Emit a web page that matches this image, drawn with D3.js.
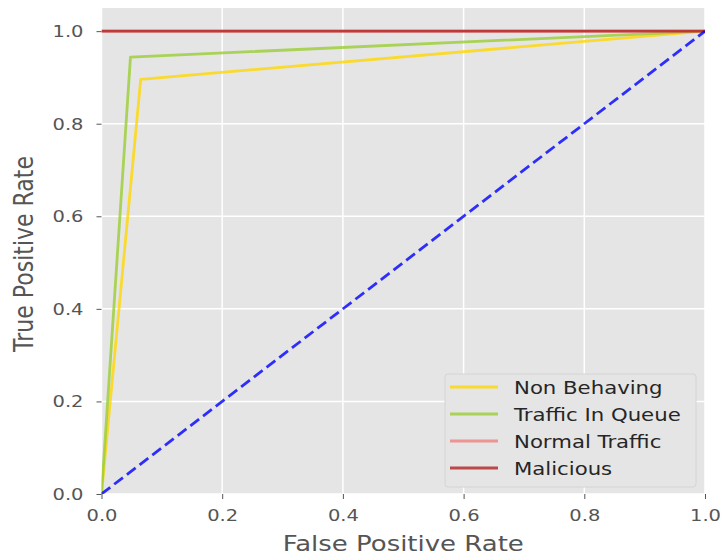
<!DOCTYPE html>
<html>
<head>
<meta charset="utf-8">
<script src="https://cdn.jsdelivr.net/npm/d3@7"></script>
<style>
    body { margin: 0; background: #fff; }
    text { font-family: "DejaVu Sans", sans-serif; fill: #555; }
</style>
</head>
<body>
<script>
(function(){

    //roc curve points for each class
    var classNames = ["Non Behaving", "Traffic In Queue", "Normal Traffic", "Malicious"];
    var fprNonBehaving = [0, 0.065, 1],
        tprNonBehaving = [0, 0.896, 1];
    var fprTrafficQueue = [0, 0.048, 1],
        tprTrafficQueue = [0, 0.944, 1];
    var fprNormal = [0, 1],
        tprNormal = [1, 1];
    var fprMalicious = [0, 1],
        tprMalicious = [1, 1];
    var chanceLine = [0, 1]; //diagonal reference
    var xTicks = [0, 0.2, 0.4, 0.6, 0.8, 1.0],
        yTicks = [0, 0.2, 0.4, 0.6, 0.8, 1.0];
    var lineColors = ["gold", "yellowgreen", "lightcoral", "firebrick"];

    var width = 721, height = 558;
    var left = 101.5, right = 705, top = 8, bottom = 494;
    var sx = 1.18; //the picture is a bit wider than tall, stretch the text

    var svg = d3.select("body")
        .append("svg")
        .attr("width", width)
        .attr("height", height);

    var x = d3.scaleLinear().domain([0, 1]).range([left, right]);
    var y = d3.scaleLinear().domain([0, 1.05]).range([bottom, top]);

    //plot background
    svg.append("rect")
        .attr("x", left)
        .attr("y", top)
        .attr("width", right - left)
        .attr("height", bottom - top)
        .attr("fill", "#e5e5e5");

    svg.append("clipPath")
        .attr("id", "plotClip")
        .append("rect")
        .attr("x", left)
        .attr("y", top)
        .attr("width", right - left)
        .attr("height", bottom - top);

    //grid
    svg.append("g").selectAll("line")
        .data(xTicks)
        .enter()
        .append("line")
        .attr("x1", function(d){ return x(d); })
        .attr("x2", function(d){ return x(d); })
        .attr("y1", top)
        .attr("y2", bottom)
        .attr("stroke", "#fff")
        .attr("stroke-width", 1.5);
    svg.append("g").selectAll("line")
        .data(yTicks)
        .enter()
        .append("line")
        .attr("x1", left)
        .attr("x2", right)
        .attr("y1", function(d){ return y(d); })
        .attr("y2", function(d){ return y(d); })
        .attr("stroke", "#fff")
        .attr("stroke-width", 1.5);

    //axes
    var xAxis = svg.append("g")
        .attr("transform", "translate(0," + bottom + ")")
        .call(d3.axisBottom(x).tickValues(xTicks).tickFormat(d3.format(".1f")).tickSize(5).tickPadding(10));
    var yAxis = svg.append("g")
        .attr("transform", "translate(" + left + ",0)")
        .call(d3.axisLeft(y).tickValues(yTicks).tickFormat(d3.format(".1f")).tickSize(5).tickPadding(13));

    [xAxis, yAxis].forEach(function(ax){
        ax.select(".domain").remove();
        ax.selectAll(".tick line").attr("stroke", "#555");
        ax.selectAll(".tick text")
            .attr("fill", "#555")
            .style("font-size", "16.5px")
            .style("font-family", "DejaVu Sans");
    });
    xAxis.selectAll(".tick text").attr("transform", "scale(" + sx + ",1)");
    yAxis.selectAll(".tick text")
        .attr("x", -18 / sx)
        .attr("transform", "scale(" + sx + ",1)");

    //curves
    var lineGen = d3.line()
        .x(function(d){ return x(d[0]); })
        .y(function(d){ return y(d[1]); });

    var curves = [
        d3.zip(fprNonBehaving, tprNonBehaving),
        d3.zip(fprTrafficQueue, tprTrafficQueue),
        d3.zip(fprNormal, tprNormal),
        d3.zip(fprMalicious, tprMalicious)
    ];

    var plot = svg.append("g").attr("clip-path", "url(#plotClip)");

    plot.selectAll(".curve")
        .data(curves)
        .enter()
        .append("path")
        .attr("class", "curve")
        .attr("d", lineGen)
        .attr("fill", "none")
        .attr("stroke", function(d, i){ return lineColors[i]; })
        .attr("stroke-opacity", 0.8)
        .attr("stroke-width", 2.8)
        .attr("stroke-linejoin", "round");

    plot.append("path")
        .datum(d3.zip(chanceLine, chanceLine))
        .attr("d", lineGen)
        .attr("fill", "none")
        .attr("stroke", "blue")
        .attr("stroke-opacity", 0.8)
        .attr("stroke-width", 2.8)
        .attr("stroke-dasharray", "11,5");

    //axis titles
    svg.append("text")
        .attr("transform", "translate(" + ((left + right) / 2) + ",551) scale(" + sx + ",1)")
        .attr("text-anchor", "middle")
        .style("font-size", "22px")
        .text("False Positive Rate");

    svg.append("text")
        .attr("transform", "translate(33," + ((top + bottom) / 2 + 3) + ") scale(" + sx + ",1) rotate(-90)")
        .attr("text-anchor", "middle")
        .style("font-size", "22px")
        .text("True Positive Rate");

    //legend
    var legend = svg.append("g");
    legend.append("rect")
        .attr("x", 445)
        .attr("y", 374)
        .attr("width", 251)
        .attr("height", 113)
        .attr("rx", 3)
        .attr("fill", "#e5e5e5")
        .attr("stroke", "#d4d4d4");

    var items = legend.selectAll(".item")
        .data(classNames)
        .enter()
        .append("g")
        .attr("class", "item")
        .attr("transform", function(d, i){ return "translate(0," + (387 + i * 27) + ")"; });

    items.append("line")
        .attr("x1", 450)
        .attr("x2", 498)
        .attr("stroke", function(d, i){ return lineColors[i]; })
        .attr("stroke-opacity", 0.8)
        .attr("stroke-width", 2.8);

    items.append("text")
        .attr("transform", "translate(514,6.5) scale(" + sx + ",1)")
        .style("font-size", "18px")
        .style("fill", "#262626")
        .text(function(d){ return d; });

})();
</script>
</body>
</html>
